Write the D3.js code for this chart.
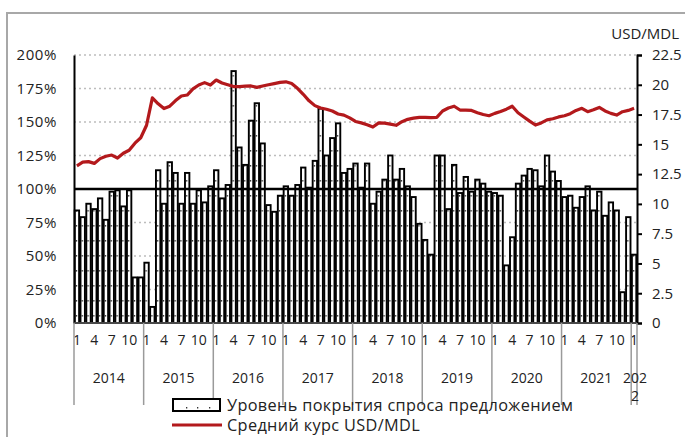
<!DOCTYPE html>
<html>
<head>
<meta charset="utf-8">
<script src="https://cdn.jsdelivr.net/npm/d3@7"></script>
<style>
  html, body { margin: 0; padding: 0; background: #fff; }
  svg { display: block; font-family: "Open Sans", sans-serif; }
</style>
</head>
<body>
<svg id="chart" width="685" height="437"></svg>
<script>
// ---- data ----
const years = ["2014", "2015", "2016", "2017", "2018", "2019", "2020", "2021", "2022"];
const monthLabels = ["1", "4", "7", "10"];
// monthly coverage of demand by supply, %, Jan 2014 .. Jan 2022
const coverage = [
  84, 79, 89, 85, 93, 77, 98, 99, 87, 99, 34, 34,
  45, 12, 114, 89, 120, 112, 89, 112, 89, 99, 90, 102,
  114, 93, 103, 188, 131, 118, 151, 164, 134, 88, 83, 95,
  102, 95, 103, 116, 101, 121, 160, 125, 138, 149, 112, 115,
  119, 101, 119, 89, 98, 107, 125, 107, 115, 102, 94, 74,
  62, 51, 125, 125, 85, 118, 97, 109, 98, 107, 104, 98,
  97, 95, 43, 64, 104, 110, 115, 114, 102, 125, 113, 106,
  94, 95, 86, 94, 102, 84, 98, 80, 90, 84, 23, 79,
  51
];
// monthly average USD/MDL rate
const usdMdl = [
  13.2, 13.5, 13.55, 13.4, 13.8, 14.0, 14.1, 13.85, 14.25, 14.5, 15.1, 15.55,
  16.6, 18.9, 18.4, 18.0, 18.2, 18.67, 19.06, 19.14, 19.65, 19.98, 20.18, 19.98,
  20.4, 20.15, 20.0, 19.85, 19.85, 19.88, 19.9, 19.78, 19.9, 20.0, 20.1, 20.2,
  20.25, 20.1, 19.7, 19.2, 18.65, 18.25, 18.05, 17.95, 17.8, 17.55, 17.45, 17.22,
  16.92, 16.8, 16.65, 16.45, 16.8, 16.78, 16.7, 16.6, 16.9, 17.1, 17.2, 17.27,
  17.27, 17.25, 17.27, 17.8, 18.05, 18.2, 17.88, 17.88, 17.85, 17.66, 17.5, 17.4,
  17.6, 17.75, 17.95, 18.2, 17.65, 17.3, 16.95, 16.62, 16.8, 17.05, 17.15, 17.3,
  17.4, 17.57, 17.85, 18.02, 17.74, 17.9, 18.1, 17.8, 17.6, 17.46, 17.74, 17.85,
  18.02
];
const leftTicks = [0, 25, 50, 75, 100, 125, 150, 175, 200];
const rightTicks = [0, 2.5, 5, 7.5, 10, 12.5, 15, 17.5, 20, 22.5];
const legendLabels = ["Уровень покрытия спроса предложением", "Средний курс USD/MDL"];
const rightUnit = "USD/MDL";

// ---- layout ----
const L = 74, R = 637, T = 55, B = 323;
const svg = d3.select("#chart");
const textColor = "#222";
const red = "#b3191c";

const months = d3.range(coverage.length);
const x = d3.scaleBand().domain(months).range([L, R]).padding(0);
const step = x.step();
const yL = d3.scaleLinear().domain([0, 200]).range([B, T]);
const yR = d3.scaleLinear().domain([0, 22.5]).range([B, T]);

// frame
svg.append("path").attr("d", `M7,437 V13 H685`).attr("fill", "none")
  .attr("stroke", "#a8a8a8").attr("stroke-width", 2);

// pattern for bars
const defs = svg.append("defs");
const pat = defs.append("pattern").attr("id", "dots")
  .attr("patternUnits", "userSpaceOnUse")
  .attr("x", L).attr("y", B).attr("width", step).attr("height", 15);
pat.append("rect").attr("width", step).attr("height", 15).attr("fill", "#fff");
pat.append("rect").attr("x", step / 2 - 1.1).attr("y", 7).attr("width", 1.3).attr("height", 1.6).attr("fill", "#333");

// gridlines
svg.append("g").selectAll("line")
  .data(leftTicks.filter(d => d !== 0 && d !== 100))
  .join("line")
  .attr("x1", L).attr("x2", R)
  .attr("y1", d => yL(d)).attr("y2", d => yL(d))
  .attr("stroke", "#bdbdbd").attr("stroke-width", 1.3)
  .attr("stroke-dasharray", "2,3");

// bars
svg.append("g").selectAll("rect")
  .data(coverage)
  .join("rect")
  .attr("x", (d, i) => x(i) + 0.7)
  .attr("width", step - 1.4)
  .attr("y", d => yL(d))
  .attr("height", d => B - yL(d))
  .attr("fill", "url(#dots)")
  .attr("stroke", "#000")
  .attr("stroke-width", 1.9);

// 100% line
svg.append("line")
  .attr("x1", L).attr("x2", R)
  .attr("y1", yL(100)).attr("y2", yL(100))
  .attr("stroke", "#000").attr("stroke-width", 2.6);

// rate line
const line = d3.line()
  .x((d, i) => x(i) + step / 2)
  .y(d => yR(d))
  .curve(d3.curveLinear);
svg.append("path").datum(usdMdl)
  .attr("d", line)
  .attr("fill", "none")
  .attr("stroke", red)
  .attr("stroke-width", 3.2)
  .attr("stroke-linejoin", "round");

// left axis
const axL = svg.append("g").attr("transform", `translate(${L},0)`)
  .call(d3.axisLeft(yL).tickValues(leftTicks).tickFormat(d => d + "%").tickSize(0).tickPadding(17));
axL.select(".domain").attr("stroke", "#000").attr("stroke-width", 2);
axL.selectAll("text").attr("fill", textColor).style("font-size", "15px")
  .style("font-family", "'Open Sans', sans-serif").style("letter-spacing", "0.6px");

// right axis
const axR = svg.append("g").attr("transform", `translate(${R},0)`)
  .call(d3.axisRight(yR).tickValues(rightTicks).tickFormat(d => String(d)).tickSize(5).tickPadding(10));
axR.select(".domain").attr("stroke", "#000").attr("stroke-width", 2);
axR.selectAll(".tick line").attr("stroke", "#000").attr("stroke-width", 2);
axR.selectAll("text").attr("fill", textColor).style("font-size", "15px")
  .style("font-family", "'Open Sans', sans-serif");

svg.append("text").attr("x", 679).attr("y", 39).attr("text-anchor", "end")
  .attr("fill", textColor).style("font-size", "15px").text(rightUnit);

// baseline
svg.append("line").attr("x1", L).attr("x2", R).attr("y1", B).attr("y2", B)
  .attr("stroke", "#888").attr("stroke-width", 1);

// category axis: months
const monthTicks = months.filter(i => monthLabels.includes(String(i % 12 + 1)));
const axM = svg.append("g").attr("transform", `translate(0,${B})`)
  .call(d3.axisBottom(x).tickValues(monthTicks).tickFormat(i => String(i % 12 + 1)).tickSize(0).tickPadding(12));
axM.select(".domain").remove();
axM.selectAll("text").attr("fill", textColor).style("font-size", "14px")
  .style("font-family", "'Open Sans', sans-serif");

// year separators
const yearStarts = years.map((y, k) => k * 12);
const seps = yearStarts.map(i => x(i)).concat([R]);
svg.append("g").selectAll("line").data(seps).join("line")
  .attr("x1", d => d).attr("x2", d => d)
  .attr("y1", B).attr("y2", 405)
  .attr("stroke", "#9a9a9a").attr("stroke-width", 1.5);

// year labels
years.forEach((yr, k) => {
  const i0 = k * 12;
  const i1 = Math.min(i0 + 11, coverage.length - 1);
  const cx = (x(i0) + x(i1) + step) / 2;
  if (i1 - i0 < 2) {
    // narrow last category: label wraps onto two lines
    svg.append("text").attr("x", cx + 1).attr("y", 383).attr("text-anchor", "middle")
      .attr("fill", textColor).style("font-size", "14px").text(yr.slice(0, 3));
    svg.append("text").attr("x", cx + 1).attr("y", 401).attr("text-anchor", "middle")
      .attr("fill", textColor).style("font-size", "14px").text(yr.slice(3));
  } else {
    svg.append("text").attr("x", cx).attr("y", 383).attr("text-anchor", "middle")
      .attr("fill", textColor).style("font-size", "14px").text(yr);
  }
});

// legend
const lg = svg.append("g");
lg.append("rect").attr("x", 173).attr("y", 399).attr("width", 47).attr("height", 12)
  .attr("fill", "#fff").attr("stroke", "#000").attr("stroke-width", 2);
[186, 197, 209].forEach(px => lg.append("rect").attr("x", px).attr("y", 407).attr("width", 1.3).attr("height", 1.5).attr("fill", "#333"));
lg.append("text").attr("x", 227).attr("y", 411).attr("fill", textColor)
  .style("font-size", "16.3px").style("letter-spacing", "0.35px").text(legendLabels[0]);
lg.append("line").attr("x1", 172).attr("x2", 222).attr("y1", 425).attr("y2", 425)
  .attr("stroke", red).attr("stroke-width", 3);
lg.append("text").attr("x", 227).attr("y", 431).attr("fill", textColor)
  .style("font-size", "16.3px").style("letter-spacing", "0.35px").text(legendLabels[1]);
</script>
</body>
</html>
